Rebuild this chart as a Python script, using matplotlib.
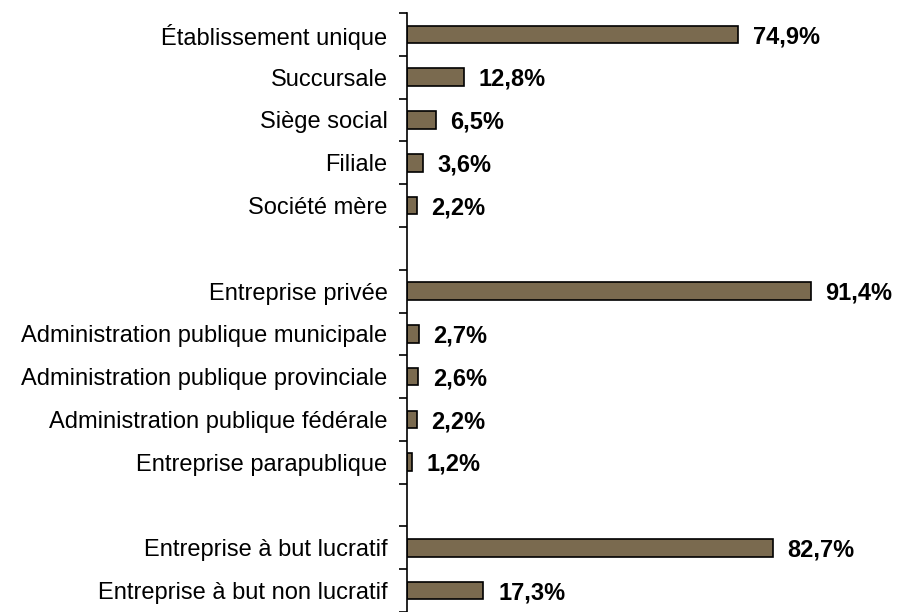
#!/usr/bin/env python3
"""Horizontal bar chart: repartition des etablissements."""
import numpy as np
import matplotlib.pyplot as plt

plt.rcParams['font.family'] = ['Liberation Sans', 'DejaVu Sans']

# groups of categories, separated by an empty row
groups = [
    ["Établissement unique", "Succursale", "Siège social", "Filiale", "Société mère"],
    ["Entreprise privée", "Administration publique municipale",
     "Administration publique provinciale", "Administration publique fédérale",
     "Entreprise parapublique"],
    ["Entreprise à but lucratif", "Entreprise à but non lucratif"],
]
group_values = [
    [74.9, 12.8, 6.5, 3.6, 2.2],
    [91.4, 2.7, 2.6, 2.2, 1.2],
    [82.7, 17.3],
]

labels, values, positions = [], [], []
pos = 0
for cats, vals in zip(groups, group_values):
    for c, v in zip(cats, vals):
        labels.append(c)
        values.append(v)
        positions.append(pos)
        pos += 1
    pos += 1  # blank row between groups
n_slots = pos - 1

fig = plt.figure(figsize=(8.99, 6.12), dpi=100)
ax = fig.add_axes([407 / 899, 0, 442 / 899, 1 - 13 / 612])

ax.barh(positions, values, height=0.41, color='#7a6a4f', edgecolor='black', linewidth=1.2)

for p, v in zip(positions, values):
    ax.text(v + 3.3, p + 0.05, f"{v:.1f}%".replace('.', ','), va='center', ha='left',
            fontsize=17, fontweight='bold')

ax.set_xlim(0, 100)
ax.set_ylim(13.4, -0.5)

# category labels without tick marks, ticks placed on the slot boundaries
ax.set_yticks(positions)
ax.set_yticklabels(labels, fontsize=17)
ax.tick_params(axis='y', which='major', length=0, pad=14)
ax.set_yticks(np.arange(-0.5, n_slots + 0.5, 1.0), minor=True)
ax.tick_params(axis='y', which='minor', length=6, width=1.2, direction='out')

ax.set_xticks([])
for s in ['top', 'right', 'bottom']:
    ax.spines[s].set_visible(False)
ax.spines['left'].set_linewidth(1.2)

fig.savefig("out.png", dpi=100)
